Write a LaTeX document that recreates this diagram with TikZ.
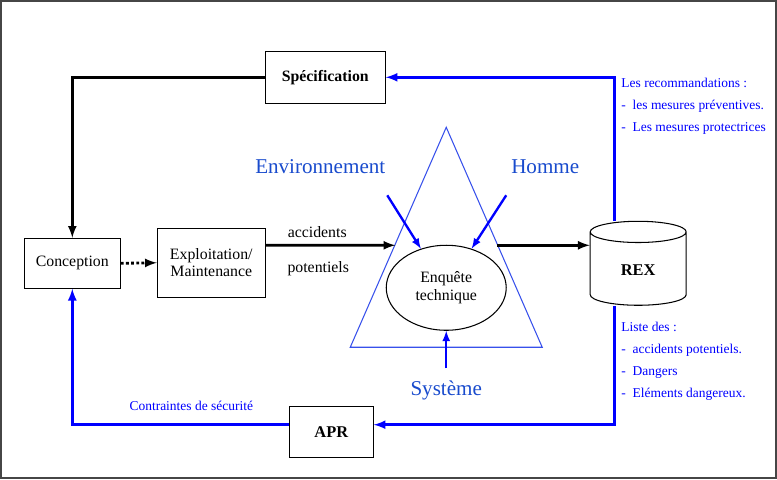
\documentclass[tikz,border=0pt]{standalone}
\usepackage{fontspec}
\setmainfont{Liberation Serif}
\usetikzlibrary{calc,shapes.geometric}
\definecolor{labelblue}{RGB}{25,75,205}
\definecolor{triblue}{RGB}{55,80,235}
\definecolor{framegray}{RGB}{70,70,70}

\begin{document}
\begin{tikzpicture}[x=0.03cm,y=-0.03cm,
    box/.style={draw, line width=0.9pt, font=\fontsize{13.5}{15}\selectfont, inner sep=2pt},
    flow/.style={line width=2.4pt, -latex},
    feedback/.style={line width=2.4pt, blue, -latex},
    notes/.style={blue, align=left, inner sep=0pt, anchor=north west, font=\fontsize{11.5}{18.8}\selectfont},
    factor/.style={labelblue, font=\fontsize{18}{20}\selectfont}]

            \draw [framegray, line width=1.4pt] (0.5,0.5) rectangle (776,478);

            \node [box, minimum width=3.6cm, minimum height=1.56cm, font=\bfseries\fontsize{13.5}{15}\selectfont] (spec) at (325,77) {Spécification};
            \node [box, minimum width=2.88cm, minimum height=1.5cm] (conc) at (72,263) {Conception};
            \node [box, minimum width=3.24cm, minimum height=2.07cm, align=center] (expl) at (211,262.5) {Exploitation/\\Maintenance};
            \node [box, minimum width=2.52cm, minimum height=1.53cm, font=\bfseries\fontsize{14}{15}\selectfont] (apr) at (331,431.5) {APR};
            \node [box, cylinder, shape border rotate=90, aspect=0.54, minimum width=2.88cm, minimum height=2.52cm, anchor=shape center, font=\bfseries\fontsize{14}{15}\selectfont] (rex) at (638,263) {REX};

            \coordinate (tritop) at (446,127);
            \coordinate (trileft) at (350,347);
            \coordinate (triright) at (542,347);
            \draw [triblue, line width=0.9pt] (tritop) -- (trileft) -- (triright) -- cycle;

            \node [box, ellipse, minimum width=3.6cm, minimum height=2.55cm, align=center] (enq) at (446,287.5) {Enquête\\technique};

            \node [factor] (env) at (320,166) {Environnement};
            \node [factor] (hom) at (545,166) {Homme};
            \node [factor] (sys) at (446,390) {Système};

            \coordinate (envtail) at (387,195);
            \coordinate (homtail) at (506,195);
            \coordinate (systail) at (446,368);
            \draw [blue, line width=2pt, -latex] (envtail) -- (enq.123);
            \draw [blue, line width=2pt, -latex] (homtail) -- (enq.57);
            \draw [blue, line width=2pt, -latex] (systail) -- (enq.south);

            \coordinate (accin) at (395,245);
            \coordinate (accout) at (497,245);
            \draw [flow] ($(expl.north east)!0.25!(expl.south east)$) -- (accin);
            \draw [flow] (accout) -- (accout -| rex.west);
            \node [font=\fontsize{13.5}{15}\selectfont] (acc1) at (317,232) {accidents};
            \node [font=\fontsize{13.5}{15}\selectfont] (acc2) at (318,268) {potentiels};

            \draw [line width=2.4pt, dotted, -latex] (conc.east) -- (expl.west);

            \draw [flow] (spec.west) -| (conc.north);

            \coordinate (rexup) at ($(rex.north)+(-24,0)$);
            \coordinate (rexdown) at ($(rex.south)+(-24,0)$);
            \draw [feedback] (rexup) |- (spec.east);
            \draw [feedback] (rexdown) |- ([yshift=6pt]apr.east);
            \draw [feedback] ([yshift=6pt]apr.west) -| (conc.south);

            \node [notes] (reco) at (621,78) {Les recommandations :\\-\ \ les mesures préventives.\\-\ \ Les mesures protectrices};
            \node [notes] (liste) at (621,322) {Liste des :\\-\ \ accidents potentiels.\\-\ \ Dangers\\-\ \ Eléments dangereux.};
            \node [blue, font=\fontsize{11.5}{12}\selectfont] (contr) at (191,406) {Contraintes de sécurité};
        \end{tikzpicture}
\end{document}
